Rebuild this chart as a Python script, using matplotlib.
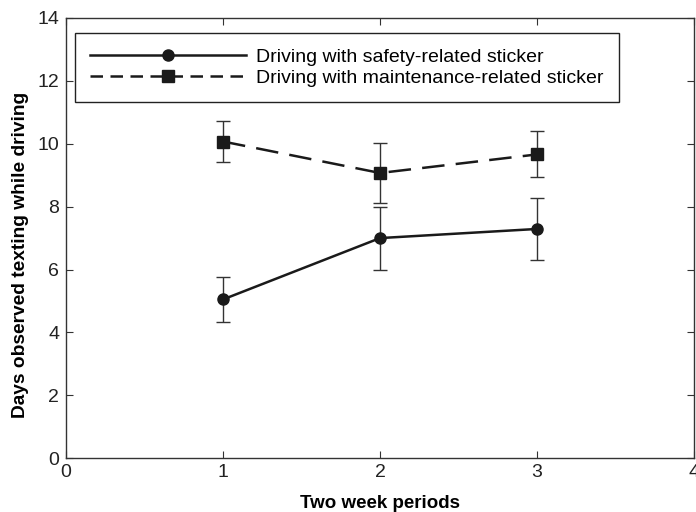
import matplotlib
matplotlib.use("Agg")
import matplotlib.pyplot as plt
from matplotlib.lines import Line2D

periods = [1, 2, 3]
safety = [5.05, 7.0, 7.29]
safety_err = [0.72, 1.0, 1.0]
maint = [10.07, 9.07, 9.66]
maint_err = [0.66, 0.96, 0.73]

labels = ['Driving with safety-related sticker',
          'Driving with maintenance-related sticker']

plt.rcParams['font.family'] = ['Liberation Sans', 'DejaVu Sans']

fig = plt.figure(figsize=(6.96, 5.12), dpi=100)
ax = fig.add_axes([0.095, 0.105, 0.902, 0.86])

ax.errorbar(periods, safety, yerr=safety_err, color='#1a1a1a', ls='-', lw=1.8,
            marker='o', ms=8, ecolor='#333333', elinewidth=1, capsize=5, capthick=1)
ax.errorbar(periods, maint, yerr=maint_err, color='#1a1a1a', ls=(0, (9, 4.5)), lw=1.8,
            marker='s', ms=8, ecolor='#333333', elinewidth=1, capsize=5, capthick=1)

ax.set_xlim(0, 4)
ax.set_ylim(0, 14)
ax.set_xticks([0, 1, 2, 3, 4])
ax.set_yticks(range(0, 15, 2))
ax.tick_params(direction='in', top=True, right=True, labelsize=14, length=5,
               color='#333333', labelcolor='#222222')
ax.tick_params(axis='x', pad=4)
ax.tick_params(axis='y', pad=5)
for s in ax.spines.values():
    s.set_linewidth(1)
    s.set_color('#333333')

ax.set_xlabel('Two week periods', fontsize=13.5, fontweight='bold', labelpad=10)
ax.set_ylabel('Days observed texting while driving', fontsize=13.8, fontweight='bold', labelpad=6)
ax.yaxis.label.set_y(0.462)

handles = [
    Line2D([], [], color='#1a1a1a', ls='-', lw=1.8, marker='o', ms=8),
    Line2D([], [], color='#1a1a1a', ls=(0, (5, 3)), lw=1.8, marker='s', ms=8),
]
leg = ax.legend(handles, labels, loc='upper left', bbox_to_anchor=(0.014, 0.966),
                borderaxespad=0, fontsize=14, handlelength=8.0, fancybox=False,
                framealpha=1, edgecolor='#222222', borderpad=0.8, labelspacing=0.15,
                handletextpad=0.5)
leg.get_frame().set_linewidth(1)

fig.savefig('out.png', dpi=100)
